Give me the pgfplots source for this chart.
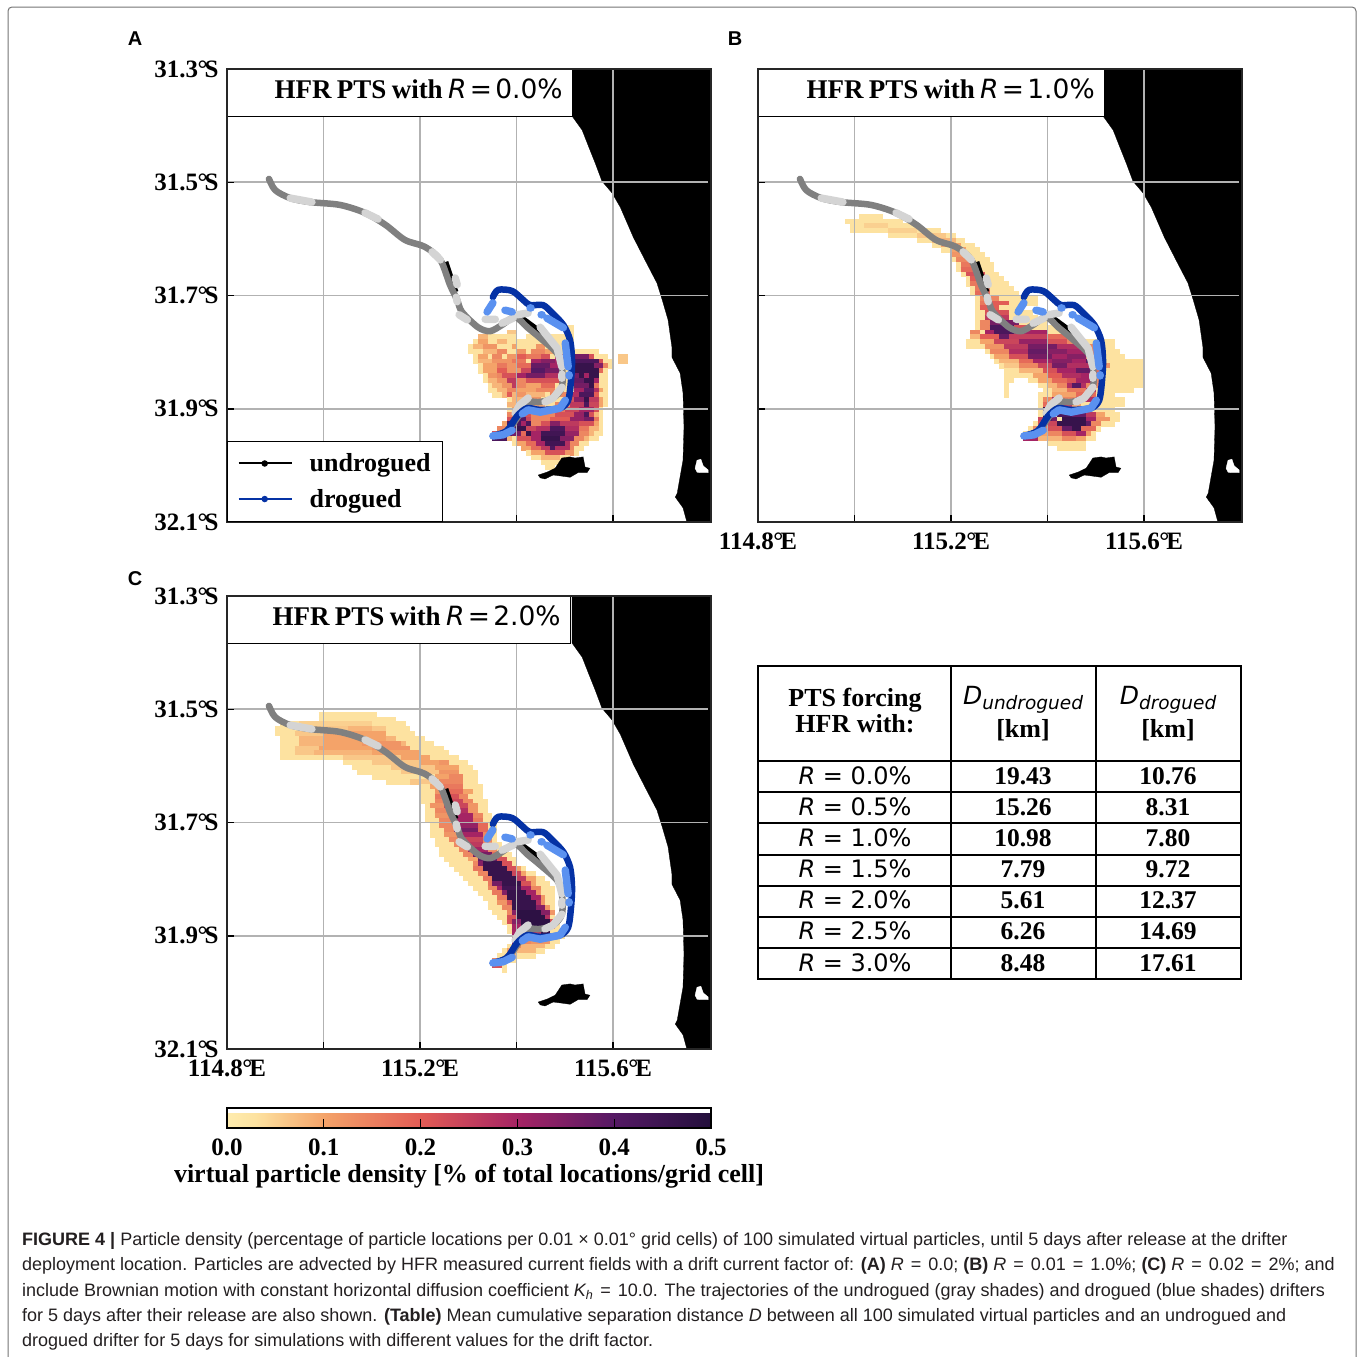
\documentclass[border=0pt]{standalone}
\usepackage{fontspec}
\usepackage{pgfplots}
\usepackage{pgfplotstable}
\pgfplotsset{compat=1.18}
\setmainfont{Liberation Serif}
\newfontfamily\lsans{Liberation Sans}
\newfontfamily\djv{DejaVu Sans}
\newcommand{\fs}[1]{\fontsize{#1}{#1}\selectfont}
\newcommand{\lab}[1]{\bfseries\fs{25}#1}
\newcommand{\degS}[1]{#1\kern-0.5pt°\kern-3pt S}
\newcommand{\degE}[1]{#1\kern-0.5pt°\kern-3pt E}
\definecolor{gridc}{RGB}{178,178,178}
\definecolor{dgray}{RGB}{128,128,128}
\definecolor{lgray}{RGB}{212,212,212}
\definecolor{dblue}{RGB}{5,50,165}
\definecolor{lblue}{RGB}{90,145,240}
\definecolor{capc}{RGB}{35,31,32}
\pgfplotstableread{
lon lat
115.515 -31.300
115.515 -31.383
115.536 -31.408
115.548 -31.434
115.563 -31.466
115.577 -31.498
115.598 -31.519
115.615 -31.544
115.642 -31.597
115.666 -31.637
115.691 -31.678
115.702 -31.708
115.714 -31.743
115.722 -31.791
115.722 -31.809
115.739 -31.837
115.745 -31.872
115.747 -31.932
115.745 -31.991
115.733 -32.049
115.729 -32.056
115.745 -32.075
115.753 -32.100
115.803 -32.100
115.803 -31.300
}\coast
\pgfplotstableread{
lon lat
115.770 -32.005
115.774 -31.991
115.782 -31.989
115.787 -32.001
115.797 -32.008
115.797 -32.013
115.780 -32.013
115.774 -32.012
}\lake
\pgfplotstableread{
lon lat
115.445 -32.017
115.463 -32.012
115.480 -32.005
115.494 -31.987
115.511 -31.985
115.521 -31.987
115.538 -31.985
115.542 -32.003
115.552 -32.005
115.546 -32.013
115.527 -32.013
115.511 -32.021
115.494 -32.019
115.476 -32.017
115.459 -32.024
115.449 -32.022
}\island
\pgfplotstableread{
lon lat
115.252 -31.641
115.273 -31.694
nan nan
115.403 -31.736
115.465 -31.775
}\tblack
\pgfplotstableread{
lon lat
114.887 -31.494
114.900 -31.514
114.931 -31.528
114.972 -31.535
115.034 -31.540
115.086 -31.554
115.128 -31.575
115.169 -31.602
115.210 -31.614
115.242 -31.637
115.262 -31.681
115.277 -31.708
115.287 -31.729
115.320 -31.756
115.345 -31.763
115.370 -31.752
115.397 -31.738
115.422 -31.756
115.449 -31.775
115.484 -31.802
115.494 -31.826
115.494 -31.862
115.476 -31.881
115.449 -31.888
115.424 -31.888
115.412 -31.902
115.391 -31.929
115.372 -31.943
115.351 -31.948
}\tgray
\pgfplotstableread{
lon lat
114.931 -31.528
114.976 -31.535
nan nan
115.086 -31.554
115.113 -31.565
nan nan
115.225 -31.623
115.242 -31.637
nan nan
115.273 -31.669
115.277 -31.681
nan nan
115.275 -31.703
115.277 -31.711
nan nan
115.281 -31.734
115.298 -31.743
nan nan
115.335 -31.742
115.356 -31.742
nan nan
115.370 -31.749
115.393 -31.740
nan nan
115.401 -31.734
115.424 -31.731
nan nan
115.449 -31.756
115.484 -31.793
115.494 -31.826
nan nan
115.494 -31.839
115.494 -31.846
nan nan
115.494 -31.862
115.476 -31.881
115.459 -31.888
nan nan
115.424 -31.881
115.407 -31.893
115.397 -31.908
}\tlgray
\pgfplotstableread{
lon lat
115.351 -31.703
115.362 -31.690
115.391 -31.692
115.414 -31.708
115.428 -31.717
115.455 -31.717
115.474 -31.731
115.497 -31.752
115.511 -31.779
115.515 -31.814
115.513 -31.849
115.507 -31.885
115.490 -31.899
115.449 -31.902
115.422 -31.899
115.401 -31.913
115.380 -31.939
115.351 -31.948
}\tdblue
\pgfplotstableread{
lon lat
115.339 -31.729
115.351 -31.713
nan nan
115.376 -31.726
115.391 -31.729
nan nan
115.428 -31.722
115.430 -31.722
nan nan
115.451 -31.734
115.453 -31.734
nan nan
115.463 -31.740
115.497 -31.757
nan nan
115.501 -31.784
115.507 -31.826
nan nan
115.509 -31.840
115.509 -31.842
nan nan
115.501 -31.885
115.490 -31.899
115.449 -31.906
115.424 -31.902
115.412 -31.909
nan nan
115.391 -31.938
115.372 -31.946
115.351 -31.948
}\tlblue
\pgfplotstableread{
j a b v
53 70 72 3
54 58 60 6
54 70 72 3
55 52 60 3
55 52 54 8
55 62 65 3
55 67 72 3
56 51 72 3
56 52 54 10
56 56 58 8
57 50 72 3
57 51 53 8
57 53 56 12
57 59 60 10
57 64 66 12
58 50 77 3
58 53 56 8
58 56 58 14
58 60 62 12
58 63 66 14
58 66 68 10
59 51 79 3
59 81 83 6
59 52 54 10
59 55 57 14
59 58 60 12
59 60 62 20
59 62 65 16
59 65 67 22
59 68 70 28
59 72 75 36
59 75 76 22
60 51 80 3
60 81 83 6
60 52 55 8
60 55 59 12
60 59 62 16
60 63 65 30
60 65 68 34
60 68 70 30
60 72 77 42
60 77 78 22
61 52 80 3
61 53 56 10
61 56 58 16
61 58 60 12
61 60 63 18
61 63 67 38
61 67 70 30
61 72 76 46
61 76 78 34
61 78 79 14
62 52 79 3
62 53 56 10
62 56 58 20
62 58 61 12
62 61 63 24
62 63 66 40
62 66 70 36
62 72 77 46
62 77 78 18
63 53 79 3
63 54 56 12
63 56 57 14
63 57 60 22
63 60 62 30
63 62 66 36
63 66 70 28
63 72 73 36
63 73 74 46
63 74 75 30
63 75 77 46
64 53 79 3
64 54 56 8
64 56 58 12
64 58 60 26
64 60 62 14
64 62 69 22
64 71 74 38
64 74 76 46
64 76 77 30
65 54 79 3
65 55 57 8
65 57 59 12
65 59 60 26
65 60 62 14
65 62 65 10
65 65 68 18
65 72 75 36
65 75 76 46
65 76 77 16
66 54 79 3
66 56 58 8
66 58 60 14
66 60 64 10
66 64 68 14
66 72 74 30
66 74 76 40
66 76 77 28
66 77 78 10
67 55 79 3
67 57 60 8
67 58 59 20
67 60 62 12
67 62 66 8
67 67 71 14
67 71 73 28
67 73 76 42
67 76 77 20
68 58 79 3
68 59 62 8
68 62 65 12
68 70 72 22
68 72 74 34
68 74 75 46
68 75 77 26
68 77 78 10
69 58 79 3
69 58 60 8
69 60 66 10
69 68 71 14
69 71 74 26
69 74 75 42
69 75 77 24
69 77 78 10
70 58 78 3
70 59 65 10
70 65 70 16
70 70 73 24
70 73 76 30
70 76 77 22
71 58 78 3
71 58 61 14
71 61 63 22
71 63 68 14
71 68 72 22
71 72 74 32
71 74 75 42
71 75 76 22
71 76 77 8
72 58 78 3
72 58 59 22
72 59 62 40
72 62 63 24
72 63 67 14
72 67 71 20
72 71 74 32
72 74 76 36
72 76 77 16
73 57 78 3
73 57 58 10
73 58 61 42
73 61 62 30
73 62 63 42
73 63 65 14
73 65 67 22
73 67 69 34
73 69 73 26
73 73 76 22
73 76 77 10
74 56 78 3
74 56 58 14
74 58 60 40
74 60 62 46
74 62 64 24
74 64 67 28
74 67 70 42
74 70 73 28
74 73 75 16
74 75 77 8
75 55 78 3
75 55 57 22
75 57 59 40
75 59 61 36
75 61 62 18
75 62 63 46
75 63 65 30
75 65 70 44
75 70 73 32
75 73 75 14
75 75 76 8
76 55 77 3
76 55 58 42
76 58 59 8
76 60 63 22
76 63 65 30
76 65 69 46
76 69 72 34
76 72 74 14
76 74 75 8
77 59 75 3
77 60 62 10
77 62 64 18
77 64 66 30
77 66 70 44
77 70 71 28
77 71 73 14
78 61 74 3
78 61 63 10
78 63 65 18
78 65 67 26
78 67 68 42
78 68 71 28
78 71 72 14
79 62 73 3
79 63 66 10
79 66 70 22
79 70 72 12
80 63 71 3
80 65 69 8
81 65 70 3
82 66 68 3
}\heatA
\pgfplotstableread{
j a b v
30 21 26 3
31 18 30 3
32 19 33 3
32 22 27 5
33 19 38 3
33 27 33 5
34 27 41 3
34 33 39 6
35 33 43 3
35 36 41 8
36 36 45 3
36 38 42 10
37 38 46 3
37 40 43 10
38 40 47 3
38 40 43 12
39 40 48 3
39 41 44 14
40 41 49 3
40 42 45 16
41 41 49 3
41 42 46 18
42 42 50 3
42 43 47 22
43 43 51 3
43 44 46 20
44 43 52 3
44 44 47 16
45 44 53 3
45 45 48 16
46 44 54 3
46 45 48 18
47 45 58 3
47 46 50 14
48 45 58 3
48 46 50 16
48 48 52 20
49 45 55 3
49 46 50 20
50 45 57 3
50 47 52 22
51 45 58 3
51 47 52 26
52 45 60 3
52 46 48 14
52 48 54 36
53 45 62 3
53 46 48 14
53 48 53 42
53 53 56 22
54 44 64 3
54 44 46 14
54 47 54 30
54 49 53 42
54 55 60 30
55 44 66 3
55 44 46 8
55 46 50 20
55 50 52 38
55 52 60 25
55 60 64 18
56 43 74 3
56 46 49 10
56 49 54 24
56 54 60 32
56 60 64 22
56 64 68 14
57 43 74 3
57 47 51 12
57 51 56 26
57 56 62 36
57 62 67 28
57 67 70 14
58 47 75 3
58 48 52 14
58 52 56 28
58 56 60 38
58 60 64 34
58 64 69 30
58 69 71 14
59 48 76 3
59 49 52 10
59 52 56 22
59 56 61 36
59 61 64 30
59 64 68 34
59 68 71 14
60 49 80 3
60 50 54 8
60 54 57 18
60 57 61 30
60 61 65 34
60 65 68 30
60 68 70 40
60 70 72 14
61 50 80 3
61 51 54 6
61 54 58 14
61 58 61 24
61 61 64 36
61 64 70 28
61 70 73 12
62 51 80 3
62 54 59 8
62 59 62 22
62 62 66 30
62 66 70 38
62 70 72 18
63 51 80 3
63 57 60 10
63 60 63 20
63 63 67 28
63 67 70 30
63 70 72 14
64 51 53 3
64 56 80 3
64 58 61 10
64 61 64 18
64 64 66 22
64 66 70 30
64 70 72 14
65 51 52 3
65 58 80 3
65 60 62 8
65 62 64 14
65 64 68 28
65 65 67 40
65 68 71 14
66 51 52 3
66 59 78 3
66 61 64 8
66 64 68 16
66 68 70 28
67 51 52 3
67 58 74 3
67 61 66 10
67 66 70 18
68 58 76 3
68 59 61 14
68 61 63 30
68 63 66 14
68 66 70 28
69 58 76 3
69 59 60 18
69 60 62 46
69 62 65 26
69 65 67 10
70 58 74 3
70 59 61 46
70 62 64 22
71 58 75 3
71 59 61 46
71 62 65 42
71 65 68 38
71 68 70 26
71 70 72 10
72 58 75 3
72 58 59 24
72 59 61 40
72 61 62 36
72 63 68 46
72 68 70 30
72 70 73 12
73 57 74 3
73 58 60 22
73 60 62 24
73 62 68 46
73 68 69 38
73 69 71 14
74 56 71 3
74 57 60 14
74 60 63 22
74 63 65 38
74 65 67 46
74 67 70 18
75 55 70 3
75 56 58 38
75 58 60 10
75 60 63 14
75 63 66 22
75 66 68 30
75 68 69 12
76 55 70 3
76 55 58 30
76 58 63 8
76 63 66 14
76 66 68 10
77 60 68 3
78 62 68 3
}\heatB
\pgfplotstableread{
j a b v
24 19 31 3
25 19 35 3
26 11 37 3
26 15 30 5
27 10 38 3
27 18 33 6
27 25 30 8
28 10 39 3
28 14 33 6
28 20 33 10
29 11 41 3
29 15 35 8
29 20 33 10
30 11 43 3
30 15 37 8
30 20 34 10
30 28 36 12
31 11 45 3
31 14 27 6
31 19 30 10
31 30 38 12
32 11 46 3
32 14 24 6
32 18 30 8
32 30 40 10
33 11 48 3
33 24 36 6
33 36 42 10
34 24 50 3
34 30 40 6
34 40 44 10
34 44 46 12
35 26 51 3
35 34 44 6
35 43 48 10
36 27 52 3
36 36 44 6
36 44 48 12
37 30 52 3
37 43 46 10
37 46 49 14
38 33 52 3
38 38 43 6
38 44 49 14
39 40 53 3
39 42 44 10
39 44 49 16
40 40 53 3
40 43 45 12
40 45 49 18
40 49 51 10
41 40 53 3
41 43 45 16
41 45 48 22
41 48 50 14
42 40 54 3
42 43 45 14
42 45 49 24
42 49 51 14
43 41 54 3
43 42 45 12
43 45 50 24
43 50 52 12
44 41 54 3
44 43 46 14
44 46 50 28
44 50 52 12
45 41 55 3
45 43 46 12
45 46 51 30
45 51 53 14
46 41 55 3
46 44 47 14
46 47 51 30
46 51 53 16
47 42 56 3
47 44 47 14
47 47 52 32
47 52 54 18
48 42 56 3
48 45 47 14
48 47 52 36
48 52 54 18
49 42 56 3
49 45 48 12
49 48 53 30
49 53 55 14
50 43 56 3
50 46 48 14
50 48 53 24
50 53 55 14
51 43 57 3
51 47 49 14
51 49 53 26
51 53 55 14
52 44 58 3
52 48 50 14
52 50 54 30
52 54 56 14
53 44 59 3
53 49 51 14
53 51 55 36
53 55 57 18
54 45 60 3
54 50 52 10
54 52 56 38
54 56 58 22
55 46 60 3
55 51 52 14
55 52 53 34
55 53 57 46
55 57 59 22
56 47 62 3
56 51 53 16
56 53 58 46
56 58 60 22
56 60 61 10
57 48 64 3
57 52 54 14
57 54 59 46
57 59 61 24
57 61 62 10
58 49 66 3
58 53 55 16
58 55 60 46
58 60 62 26
58 62 64 10
59 50 67 3
59 54 55 16
59 55 57 36
59 57 61 46
59 61 63 22
59 63 64 10
60 51 68 3
60 54 56 14
60 56 57 30
60 57 61 44
60 61 63 30
60 63 65 14
61 52 68 3
61 55 57 16
61 57 58 34
61 58 62 46
61 62 64 30
61 64 65 12
62 53 68 3
62 56 58 16
62 58 63 46
62 63 65 30
62 65 66 12
63 54 68 3
63 56 58 12
63 58 59 22
63 59 64 46
63 64 65 28
63 65 66 12
64 54 68 3
64 57 59 14
64 59 64 46
64 64 66 34
64 66 67 12
65 55 68 3
65 58 59 14
65 59 60 34
65 60 65 48
65 65 67 34
65 67 68 12
66 56 68 3
66 58 60 22
66 60 66 48
66 66 67 28
67 57 69 3
67 58 59 22
67 59 61 34
67 61 67 48
67 67 68 22
68 58 69 3
68 59 61 30
68 61 67 48
68 67 68 22
69 58 69 3
69 59 60 30
69 60 63 46
69 63 65 26
69 65 67 46
70 59 70 3
70 59 60 30
70 60 62 40
70 62 67 18
71 59 69 3
71 59 60 30
71 60 63 14
71 63 67 12
72 58 68 3
72 59 61 14
72 61 66 8
73 57 66 3
73 58 60 10
73 60 64 8
74 56 64 3
74 58 60 8
75 55 60 3
75 55 57 14
76 55 58 3
76 55 57 22
77 57 58 3
}\heatC
\newcommand{\mapplots}[1]{%
  \addplot[forget plot, point meta=\thisrow{v}/100,
    quiver={u=(\thisrow{b}-\thisrow{a})*0.01, v=0, colored,
      every arrow/.append style={-, line width=5.3pt, line cap=butt}}]
    table[x expr=114.8+\thisrow{a}*0.01, y expr=-31.3-(\thisrow{j}+0.5)*0.00853] {#1};
  \addplot[forget plot, fill=black, draw=black, line width=0.3pt] table[x=lon,y=lat] {\coast} -- cycle;
  \addplot[forget plot, fill=white, draw=white, line width=0.3pt] table[x=lon,y=lat] {\lake} -- cycle;
  \addplot[forget plot, fill=black, draw=black, line width=0.3pt] table[x=lon,y=lat] {\island} -- cycle;
  \draw[gridc,line width=1.8pt] (axis cs:115.0,-31.3) -- (axis cs:115.0,-32.1);
  \draw[gridc,line width=1.8pt] (axis cs:115.2,-31.3) -- (axis cs:115.2,-32.1);
  \draw[gridc,line width=1.8pt] (axis cs:115.4,-31.3) -- (axis cs:115.4,-32.1);
  \draw[gridc,line width=1.8pt] (axis cs:115.6,-31.3) -- (axis cs:115.6,-32.1);
  \draw[gridc,line width=1.8pt] (axis cs:114.8,-31.5) -- (axis cs:115.797,-31.5);
  \draw[gridc,line width=1.8pt] (axis cs:114.8,-31.7) -- (axis cs:115.797,-31.7);
  \draw[gridc,line width=1.8pt] (axis cs:114.8,-31.9) -- (axis cs:115.797,-31.9);
  \addplot[forget plot, black, line width=6.5pt, unbounded coords=jump] table[x=lon,y=lat] {\tblack};
  \addplot[forget plot, dgray, smooth, tension=0.5, line width=6.5pt, line cap=round, line join=round] table[x=lon,y=lat] {\tgray};
  \addplot[forget plot, lgray, line width=7.5pt, line cap=round, line join=round, unbounded coords=jump] table[x=lon,y=lat] {\tlgray};
  \addplot[forget plot, dblue, smooth, tension=0.5, line width=6.5pt, line cap=round, line join=round] table[x=lon,y=lat] {\tdblue};
  \addplot[forget plot, lblue, line width=7.5pt, line cap=round, line join=round, unbounded coords=jump] table[x=lon,y=lat] {\tlblue};
}
\newcommand{\titlebox}[2]{%
  \node[draw=black, fill=white, line width=1.4pt, anchor=north west, inner sep=0pt,
    minimum height=47pt, text width=#1pt, align=right] at (rel axis cs:0,1)
    {\bfseries\fs{27}HFR\hspace{2pt} PTS\hspace{2pt} with\hspace{2pt} {\djv\mdseries\fs{26.5}{\itshape R} = #2\%}\hspace{10pt}\strut};
}
\newcommand{\Rv}[1]{{\djv\fs{24}{\itshape R} = #1\%}}
\newcommand{\eqs}{\hspace{7pt}=\hspace{7pt}}
\pgfplotsset{map/.style={
  scale only axis, width=484pt, height=453pt, axis on top,
  xmin=114.8, xmax=115.803, ymin=-32.1, ymax=-31.3,
  axis line style={line width=1.5pt, black!85},
  tick align=inside, tick pos=left, xtick pos=bottom, major tick length=7pt,
  tick style={black, line width=1.5pt},
  xtick={114.8,115.0,115.2,115.4,115.6},
  ytick={-32.1,-31.9,-31.7,-31.5,-31.3},
  xticklabel style={font=\lab{}, yshift=-7pt},
  yticklabel style={font=\lab{}, xshift=-5pt},
  every tick label/.append style={/pgf/number format/assume math mode=true},
  colormap={fmag}{rgb255(0)=(254,236,175) rgb255(3)=(253,226,160) rgb255(10)=(244,163,105) rgb255(20)=(226,92,85) rgb255(30)=(165,36,100) rgb255(40)=(85,25,100) rgb255(50)=(35,15,60)},
  point meta min=0, point meta max=0.5,
}}
\begin{document}
\begin{tikzpicture}[x=1pt,y=-1pt]
\path[use as bounding box] (0,0) rectangle (1360,1357);
\draw[black!55,line width=1pt,rounded corners=4pt] (8,7) rectangle (1356,1366);
% panel A
\begin{axis}[map, at={(227pt,-522pt)}, anchor=south west,
  xticklabels={},
  yticklabels={\degS{32.1},\degS{31.9},\degS{31.7},\degS{31.5},\degS{31.3}},
  legend style={at={(0,0)},anchor=south west,draw=black,line width=1.4pt,fill=white,
    font=\bfseries\fs{26},legend cell align=left,inner xsep=10pt,inner ysep=10.5pt,row sep=12pt},
  legend image code/.code={\draw[#1,line width=2pt] (0pt,0pt)--(53pt,0pt); \fill[#1] (26pt,0pt) circle (2.5pt);},
]
\mapplots{\heatA}
\titlebox{345}{0.0}
\addlegendimage{black}\addlegendentry{\hspace{15pt}undrogued}
\addlegendimage{dblue}\addlegendentry{\hspace{15pt}drogued}
\end{axis}
% panel B
\begin{axis}[map, at={(758pt,-522pt)}, anchor=south west,
  xticklabels={\degE{114.8},,\degE{115.2},,\degE{115.6}},
  yticklabels={},
]
\mapplots{\heatB}
\titlebox{346}{1.0}
\end{axis}
% panel C
\begin{axis}[map, at={(227pt,-1049pt)}, anchor=south west,
  xticklabels={\degE{114.8},,\degE{115.2},,\degE{115.6}},
  yticklabels={\degS{32.1},\degS{31.9},\degS{31.7},\degS{31.5},\degS{31.3}},
  colorbar horizontal,
  colorbar style={at={(0,-0.130)}, anchor=north west, scale only axis, width=484pt, height=20pt,
    xtick={0,0.1,0.2,0.3,0.4,0.5}, xticklabels={0.0,0.1,0.2,0.3,0.4,0.5},
    xtick pos=bottom, tick align=inside, major tick length=9pt,
    tick style={black,line width=1.3pt},
    axis line style={line width=1.6pt,black},
    xticklabel style={font=\lab{},yshift=-7pt},
    xlabel={virtual particle density [\% of total locations/grid cell]},
    xlabel style={font=\bfseries\fs{26},yshift=-2pt},
    ytick=\empty},
]
\mapplots{\heatC}
\titlebox{343}{2.0}
\end{axis}
% panel letters
\node[font=\lsans\bfseries\fs{20}] at (135,39) {A};
\node[font=\lsans\bfseries\fs{20}] at (735,39) {B};
\node[font=\lsans\bfseries\fs{20}] at (135,579) {C};
% table
\draw[line width=1.3pt,black] (758,666) rectangle (1241,979);
\foreach \yy in {761,792,823,855,886,917,948} \draw[line width=1.3pt] (758,\yy) -- (1241,\yy);
\foreach \xx in {951,1096} \draw[line width=1.3pt] (\xx,666) -- (\xx,979);
\node[align=center,font=\bfseries\fs{26}] at (855,711) {PTS forcing\\[0pt]HFR with:};
\node at (1023,700) {{\djv\itshape\fs{25}D\fs{18.5}\raisebox{-5pt}{undrogued}}};
\node[font=\bfseries\fs{26}] at (1023,730) {[km]};
\node at (1168,700) {{\djv\itshape\fs{25}D\fs{18.5}\raisebox{-5pt}{drogued}}};
\node[font=\bfseries\fs{26}] at (1168,730) {[km]};
\foreach \yy/\r/\da/\db in {776/0.0/19.43/10.76,807/0.5/15.26/8.31,838/1.0/10.98/7.80,869/1.5/7.79/9.72,900/2.0/5.61/12.37,931/2.5/6.26/14.69,963/3.0/8.48/17.61}{
  \node at (855,\yy) {\Rv{\r}};
  \node[font=\bfseries\fs{25.5}] at (1023,\yy) {\da};
  \node[font=\bfseries\fs{25.5}] at (1168,\yy) {\db};
}
% caption
\begin{scope}[every node/.style={anchor=base west,inner sep=0pt,text=capc,font=\lsans\fs{18}}]
\node at (22,1245) {{\bfseries FIGURE 4 |} Particle density (percentage of particle locations per 0.01 × 0.01° grid cells) of 100 simulated virtual particles, until 5 days after release at the drifter};
\node at (22,1270) {deployment location. Particles are advected by HFR measured current fields with a drift current factor of: {\bfseries (A)} {\itshape R}\eqs 0.0; {\bfseries (B)} {\itshape R}\eqs 0.01\eqs 1.0\%; {\bfseries (C)} {\itshape R}\eqs 0.02\eqs 2\%; and};
\node at (22,1296) {include Brownian motion with constant horizontal diffusion coefficient {\itshape K\textsubscript{h}}\eqs 10.0. The trajectories of the undrogued (gray shades) and drogued (blue shades) drifters};
\node at (22,1321) {for 5 days after their release are also shown. {\bfseries (Table)} Mean cumulative separation distance {\itshape D} between all 100 simulated virtual particles and an undrogued and};
\node at (22,1346) {drogued drifter for 5 days for simulations with different values for the drift factor.};
\end{scope}
\end{tikzpicture}
\end{document}
